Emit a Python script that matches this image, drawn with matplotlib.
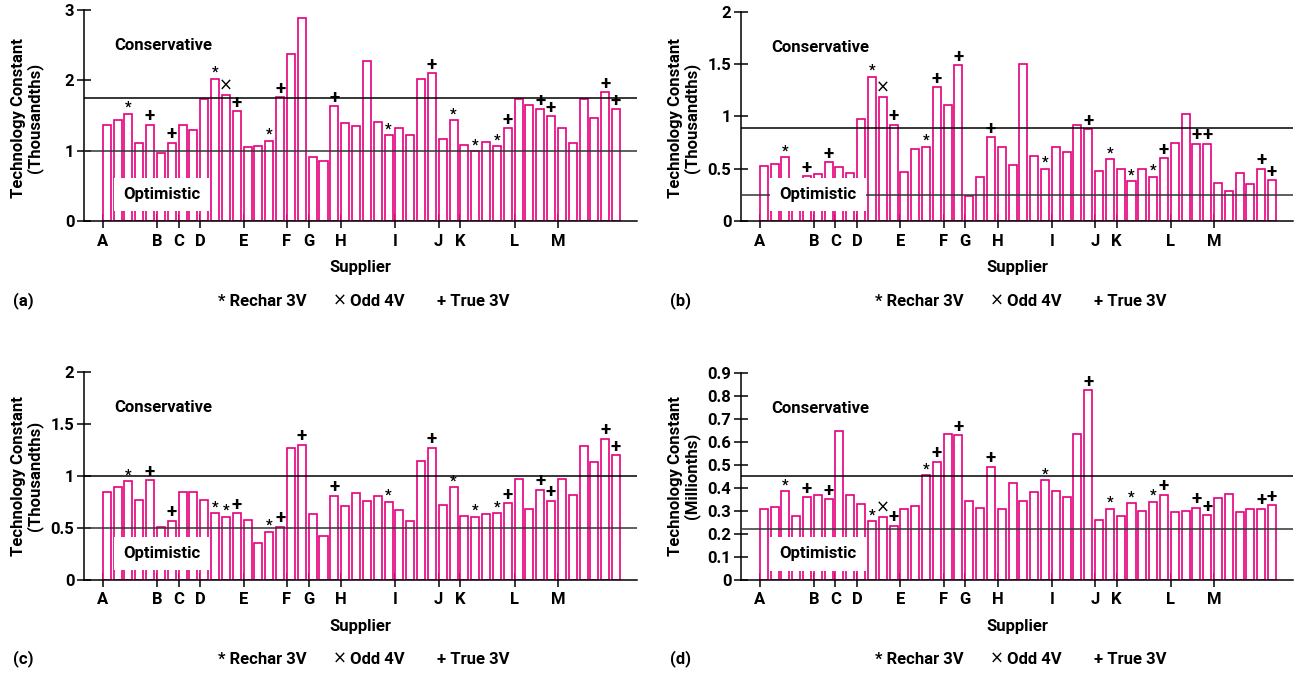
import numpy as np
import matplotlib
matplotlib.use('Agg')
import matplotlib.pyplot as plt

plt.rcParams['font.family'] = ['Roboto', 'DejaVu Sans']
plt.rcParams['font.weight'] = 'bold'
plt.rcParams['axes.labelweight'] = 'bold'

PINK = '#e6007e'

# ── Data ──────────────────────────────────────────────────────────────────────
supplier_ticks = [0, 5, 7, 9, 13, 17, 19, 22, 27, 31, 33, 38, 42]
supplier_labels = ['A', 'B', 'C', 'D', 'E', 'F', 'G', 'H', 'I', 'J', 'K', 'L', 'M']

vals_a = [1.37, 1.43, 1.52, 1.11, 1.37, 0.96, 1.11, 1.37, 1.30, 1.74,
          2.02, 1.79, 1.56, 1.05, 1.06, 1.14, 1.76, 2.38, 2.88, 0.91,
          0.86, 1.63, 1.40, 1.35, 2.27, 1.41, 1.22, 1.32, 1.22, 2.02,
          2.10, 1.16, 1.43, 1.08, 0.99, 1.13, 1.06, 1.32, 1.74, 1.65,
          1.59, 1.49, 1.32, 1.11, 1.74, 1.47, 1.83, 1.59]
marks_a = {2: '*', 4: '+', 6: '+', 10: '*', 11: 'x', 12: '+', 15: '*', 16: '+',
           21: '+', 26: '*', 30: '+', 32: '*', 34: '*', 36: '*', 37: '+',
           40: '+', 41: '+', 46: '+', 47: '+'}

vals_b = [0.53, 0.55, 0.61, 0.38, 0.43, 0.45, 0.56, 0.52, 0.46, 0.98,
          1.38, 1.19, 0.92, 0.47, 0.69, 0.71, 1.28, 1.11, 1.49, 0.24,
          0.42, 0.80, 0.71, 0.54, 1.50, 0.62, 0.50, 0.71, 0.66, 0.92,
          0.88, 0.48, 0.59, 0.50, 0.38, 0.50, 0.42, 0.60, 0.75, 1.02,
          0.74, 0.74, 0.36, 0.29, 0.46, 0.35, 0.50, 0.39]
marks_b = {2: '*', 4: '+', 6: '+', 10: '*', 11: 'x', 12: '+', 15: '*', 16: '+',
           18: '+', 21: '+', 26: '*', 30: '+', 32: '*', 34: '*', 36: '*', 37: '+',
           40: '+', 41: '+', 46: '+', 47: '+'}

vals_c = [0.85, 0.89, 0.95, 0.77, 0.96, 0.51, 0.57, 0.85, 0.85, 0.77,
          0.64, 0.61, 0.64, 0.58, 0.36, 0.46, 0.51, 1.27, 1.30, 0.63,
          0.42, 0.81, 0.71, 0.84, 0.76, 0.81, 0.75, 0.67, 0.57, 1.14,
          1.27, 0.72, 0.89, 0.62, 0.61, 0.63, 0.64, 0.74, 0.97, 0.68,
          0.87, 0.76, 0.97, 0.82, 1.29, 1.13, 1.36, 1.20]
marks_c = {2: '*', 4: '+', 6: '+', 10: '*', 11: '*', 12: '+', 15: '*', 16: '+',
           18: '+', 21: '+', 26: '*', 30: '+', 32: '*', 34: '*', 36: '*', 37: '+',
           40: '+', 41: '+', 46: '+', 47: '+'}

vals_d = [0.307, 0.316, 0.386, 0.278, 0.359, 0.368, 0.351, 0.648, 0.368, 0.329,
          0.255, 0.274, 0.235, 0.307, 0.323, 0.455, 0.514, 0.636, 0.629, 0.345,
          0.314, 0.493, 0.310, 0.420, 0.345, 0.384, 0.433, 0.388, 0.362, 0.635,
          0.825, 0.259, 0.310, 0.278, 0.333, 0.299, 0.341, 0.370, 0.296, 0.299,
          0.314, 0.281, 0.355, 0.374, 0.296, 0.307, 0.310, 0.326]
marks_d = {2: '*', 4: '+', 6: '+', 10: '*', 11: 'x', 12: '+', 15: '*', 16: '+',
           18: '+', 21: '+', 26: '*', 30: '+', 32: '*', 34: '*', 36: '*', 37: '+',
           40: '+', 41: '+', 46: '+', 47: '+'}

# conservative / optimistic limits per panel
limits_a = (1.75, 1.0)
limits_b = (0.89, 0.25)
limits_c = (1.0, 0.5)
limits_d = (0.45, 0.222)

W, H = 1296, 677
fig = plt.figure(figsize=(W / 100, H / 100), dpi=100)


def px_axes(left, top, right, bottom):
    return fig.add_axes([left / W, 1 - bottom / H, (right - left) / W, (bottom - top) / H])


def draw(ax, vals, marks, limits, ymax, yticks, yticklabels):
    x = np.arange(len(vals))
    ax.bar(x, vals, width=0.74, align='edge', facecolor='white',
           edgecolor=PINK, linewidth=1.2, zorder=2)
    cons, opt = limits
    ax.axhline(cons, color='black', lw=1.1, zorder=3)
    ax.axhline(opt, color='#333333', lw=1.1, zorder=3)

    for i, m in marks.items():
        if m == '*':
            ax.annotate('*', (i + 0.37, vals[i]), xytext=(0, 1.5), textcoords='offset points',
                        ha='center', va='baseline', fontsize=10.5, zorder=5)
        elif m == '+':
            ax.annotate('+', (i + 0.37, vals[i]), xytext=(0, 2.5), textcoords='offset points',
                        ha='center', va='baseline', fontsize=13.5, fontweight='bold', zorder=5)
        else:
            ax.annotate('\u00d7', (i + 0.37, vals[i]), xytext=(0, 3), textcoords='offset points',
                        ha='center', va='baseline', fontsize=12, fontweight='normal',
                        family='DejaVu Sans', zorder=5)

    ax.text(0.144, 0.83, 'Conservative', transform=ax.transAxes,
            ha='center', va='center', fontsize=12, zorder=6)
    ax.text(0.14, 0.126, 'Optimistic', transform=ax.transAxes,
            ha='center', va='center', fontsize=12, zorder=6,
            bbox=dict(boxstyle='square,pad=0.55', facecolor='white', edgecolor='none'))

    ax.set_xlim(-1.73, 49.3)
    ax.set_ylim(0, ymax)
    ax.set_xticks(supplier_ticks)
    ax.set_xticklabels(supplier_labels)
    ax.set_yticks(yticks)
    ax.set_yticklabels(yticklabels)
    ax.tick_params(axis='both', direction='inout', length=10, width=1.1,
                   labelsize=12, pad=2)
    ax.tick_params(axis='x', pad=4)
    ax.set_xlabel('Supplier', fontsize=12, fontweight='bold', labelpad=8)
    for s in ('top', 'right'):
        ax.spines[s].set_visible(False)
    for s in ('left', 'bottom'):
        ax.spines[s].set_linewidth(1.1)
    for lab in ax.get_xticklabels() + ax.get_yticklabels():
        lab.set_fontweight('bold')


ax_a = px_axes(84, 10, 637, 221)
draw(ax_a, vals_a, marks_a, limits_a, 3, [0, 1, 2, 3], ['0', '1', '2', '3'])
ax_b = px_axes(741, 12, 1293, 221)
draw(ax_b, vals_b, marks_b, limits_b, 2, [0, 0.5, 1, 1.5, 2], ['0', '0.5', '1', '1.5', '2'])
ax_c = px_axes(84, 372, 637, 580)
draw(ax_c, vals_c, marks_c, limits_c, 2, [0, 0.5, 1, 1.5, 2], ['0', '0.5', '1', '1.5', '2'])
ax_d = px_axes(741, 373, 1293, 580)
d_ticks = [0, 0.1, 0.2, 0.3, 0.4, 0.5, 0.6, 0.7, 0.8, 0.9]
draw(ax_d, vals_d, marks_d, limits_d, 0.9, d_ticks, ['0'] + [f'{t:.1f}' for t in d_ticks[1:]])

# y labels
for cx, cy, unit in [(27, 118, 'Thousandths'), (684, 118, 'Thousandths'),
                     (27, 476, 'Thousandths'), (684, 476, 'Millionths')]:
    fig.text(cx / W, 1 - cy / H, f'Technology Constant\n({unit})', rotation=90,
             ha='center', va='center', fontsize=12, linespacing=1.0, multialignment='center')

# panel letters and legend lines
for ox, oy, letter in [(0, 0, '(a)'), (657, 0, '(b)'), (0, 358, '(c)'), (657, 358, '(d)')]:
    y = 1 - (301 + oy) / H
    fig.text((13 + ox) / W, y, letter, ha='left', va='center', fontsize=12)
    fig.text((218 + ox) / W, y, '* Rechar 3V', ha='left', va='center', fontsize=12)
    fig.text((333 + ox) / W, y, '\u00d7', ha='left', va='center', fontsize=12,
             fontweight='normal', family='DejaVu Sans')
    fig.text((350 + ox) / W, y, 'Odd 4V', ha='left', va='center', fontsize=12)
    fig.text((437 + ox) / W, y, '+ True 3V', ha='left', va='center', fontsize=12)

fig.savefig('out.png', dpi=100, facecolor='white')
